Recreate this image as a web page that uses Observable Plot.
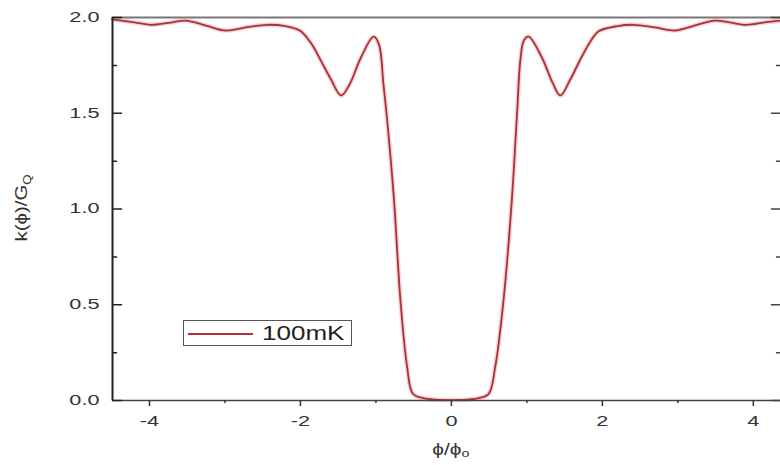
<!DOCTYPE html>
<html>
<head>
<meta charset="utf-8">
<script src="https://cdn.jsdelivr.net/npm/d3@7"></script>
<script src="https://cdn.jsdelivr.net/npm/@observablehq/plot@0.6"></script>
<style>
  html, body { margin: 0; padding: 0; background: #fff; }
  #wrap { position: relative; width: 780px; height: 465px; overflow: hidden; font-family: "Liberation Sans", Arial, sans-serif; }
  #legend { position: absolute; left: 183px; top: 320px; width: 169px; height: 26px; border: 1px solid #555; background: rgba(255,255,255,0.85); box-sizing: border-box; }
  #legend .ln { position: absolute; left: 4px; top: 12px; width: 65px; height: 0; border-top: 2px solid #b2323a; }
  #legend .tx { position: absolute; left: 78px; top: -1px; font-size: 20px; line-height: 26px; color: #222; transform: scaleX(1.3); transform-origin: left center; }
</style>
</head>
<body>
<div id="wrap">
  <div id="chart"></div>
  <div id="legend"><div class="ln"></div><div class="tx">100mK</div></div>
</div>
<script>
// flux phi/phi0
const phi = [
  -4.49, -4.2, -3.98, -3.75, -3.52, -3.25, -2.99, -2.7, -2.44, -2.2, -2.0, -1.85, -1.73, -1.6, -1.46, -1.35, -1.2, -1.03, -0.96, -0.9, -0.85, -0.76, -0.675, -0.586, -0.51, -0.37, -0.2, 0,
  0.2, 0.36, 0.494, 0.58, 0.69, 0.8, 0.87, 0.913, 0.96, 1.023, 1.2, 1.34, 1.442, 1.58, 1.72, 1.85, 1.95, 2.2, 2.41, 2.7, 2.96, 3.2, 3.49, 3.7, 3.91, 4.15, 4.36
];
// thermal conductance k(phi)/G_Q
const kVal = [
  1.990, 1.975, 1.962, 1.972, 1.984, 1.958, 1.932, 1.950, 1.962, 1.955, 1.930, 1.86, 1.775, 1.68, 1.593, 1.65, 1.79, 1.900, 1.86, 1.65, 1.46, 1.044, 0.522, 0.174, 0.035, 0.012, 0.004, 0.002,
  0.004, 0.012, 0.035, 0.174, 0.522, 1.044, 1.50, 1.775, 1.88, 1.900, 1.79, 1.66, 1.593, 1.68, 1.79, 1.88, 1.928, 1.955, 1.962, 1.948, 1.932, 1.955, 1.984, 1.973, 1.962, 1.975, 1.984
];
const xDomain = [-4.49, 4.36];
const yDomain = [0, 2];
const xMajor = [-4, -2, 0, 2, 4];
const xMinor = [-3, -1, 1, 3];
const yMajor = [0, 0.5, 1.0, 1.5, 2.0];
const yMinor = [0.25, 0.75, 1.25, 1.75];
const seriesName = "100mK";

const data = phi.map((p, i) => ({phi: p, k: kVal[i]}));
const lineShape = { draw(ctx, l) { ctx.moveTo(0, 0); ctx.lineTo(0, -l); } };
const xMin = xDomain[0], xMax = xDomain[1];

const plot = Plot.plot({
  width: 780,
  height: 465,
  marginLeft: 112,
  marginRight: 0,
  marginTop: 17,
  marginBottom: 65,
  style: { fontFamily: "'Liberation Sans', Arial, sans-serif", background: "transparent", color: "#333" },
  x: { domain: xDomain, axis: null },
  y: { domain: yDomain, axis: null },
  marks: [
    Plot.line(data, { x: "phi", y: "k", curve: "catmull-rom", stroke: "#f3b3b3", strokeWidth: 4.5, strokeOpacity: 0.6 }),
    Plot.line(data, { x: "phi", y: "k", curve: "catmull-rom", stroke: "#a8323a", strokeWidth: 1.8 }),
    Plot.ruleY([2], { stroke: "#777", strokeWidth: 2 }),
    Plot.ruleY([0], { stroke: "#444", strokeWidth: 1.5 }),
    Plot.ruleX([xMin], { stroke: "#222", strokeWidth: 2 }),
    // inward y ticks (left and right)
    Plot.vector(yMajor, { x: () => xMin, y: d => d, length: 9, rotate: 90, anchor: "start", shape: lineShape, stroke: "#222", strokeWidth: 1.5 }),
    Plot.vector(yMinor, { x: () => xMin, y: d => d, length: 4, rotate: 90, anchor: "start", shape: lineShape, stroke: "#222", strokeWidth: 1.5 }),
    Plot.vector(yMajor, { x: () => xMax, y: d => d, length: 9, rotate: -90, anchor: "start", shape: lineShape, stroke: "#444", strokeWidth: 1.5 }),
    Plot.vector(yMinor, { x: () => xMax, y: d => d, length: 4, rotate: -90, anchor: "start", shape: lineShape, stroke: "#444", strokeWidth: 1.5 }),
    Plot.axisY(yMajor, { anchor: "left", tickSize: 0, tickPadding: 13, tickFormat: d3.format(".1f"), fontSize: 14, label: null, color: "#333" }),
    Plot.axisX(xMajor, { anchor: "bottom", tickSize: 6, tickPadding: 10, fontSize: 14, label: null, color: "#333", strokeWidth: 1.5,
      tickFormat: d => (d < 0 ? "-" + Math.abs(d) : String(d)) }),
    Plot.axisX(xMinor, { anchor: "bottom", tickSize: 3, tickFormat: () => "", label: null, color: "#333", strokeWidth: 1.5 })
  ]
});
document.getElementById("chart").appendChild(plot);

const svg = d3.select(plot);
// axis titles
const yl = svg.append("text")
  .attr("transform", "translate(27,208) rotate(-90)")
  .attr("text-anchor", "middle")
  .attr("font-size", 17)
  .attr("fill", "#333");
yl.append("tspan").text("k(ϕ)/G");
yl.append("tspan").attr("font-size", 11).attr("dy", 4).text("Q");

const xl = svg.append("text")
  .attr("x", (plot.scale("x").apply(0)))
  .attr("y", 455)
  .attr("text-anchor", "middle")
  .attr("font-size", 16)
  .attr("fill", "#333");
xl.append("tspan").text("ϕ/ϕ");
xl.append("tspan").attr("font-size", 11).attr("dy", 2).text("o");

function stretch(el, f) {
  const L = el.getComputedTextLength();
  if (L > 0) {
    el.setAttribute("textLength", (L * f).toFixed(2));
    el.setAttribute("lengthAdjust", "spacingAndGlyphs");
  }
}
plot.querySelectorAll('g[aria-label="y-axis tick label"] text, g[aria-label="x-axis tick label"] text').forEach(t => stretch(t, 1.55));
stretch(yl.node(), 1.2);
stretch(xl.node(), 1.3);
</script>
</body>
</html>
